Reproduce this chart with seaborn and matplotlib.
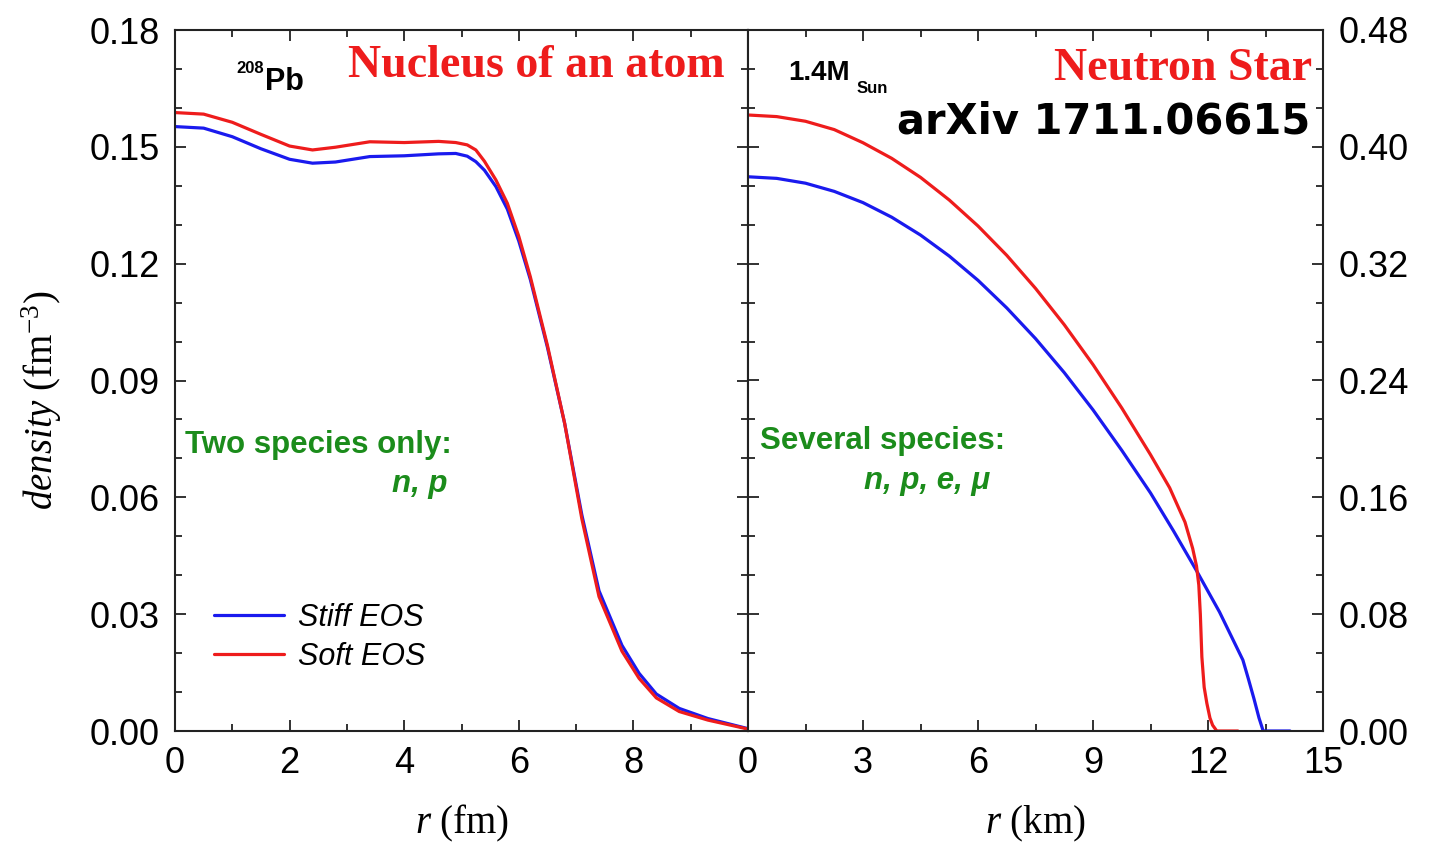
import numpy as np
import pandas as pd
import seaborn as sns
from matplotlib import pyplot as plt
from matplotlib.ticker import MultipleLocator
from matplotlib.lines import Line2D

# nucleus (208Pb) density profiles, r in fm
r_pb = [0, 0.5, 1.0, 1.5, 2.0, 2.4, 2.8, 3.4, 4.0, 4.6, 4.9, 5.1, 5.25, 5.4, 5.6, 5.8,
        6.0, 6.2, 6.5, 6.8, 7.1, 7.4, 7.8, 8.1, 8.4, 8.8, 9.3, 10.0]
stiff_pb = [0.1552, 0.1548, 0.1526, 0.1495, 0.1468, 0.1458, 0.1461, 0.1475, 0.1477,
            0.1482, 0.1483, 0.1476, 0.1462, 0.1440, 0.1398, 0.1340, 0.1258, 0.1160,
            0.0985, 0.0790, 0.0555, 0.0360, 0.0220, 0.0148, 0.0095, 0.0058, 0.0032, 0.0006]
soft_pb = [0.1588, 0.1584, 0.1563, 0.1532, 0.1502, 0.1492, 0.1499, 0.1513, 0.1511,
           0.1514, 0.1511, 0.1505, 0.1492, 0.1463, 0.1415, 0.1355, 0.1270, 0.1167,
           0.0990, 0.0790, 0.0545, 0.0345, 0.0205, 0.0135, 0.0085, 0.0050, 0.0028, 0.0005]

# neutron star (1.4 Msun) density profiles, r in km
r_ns_stiff = [0, 0.75, 1.5, 2.25, 3.0, 3.75, 4.5, 5.25, 6.0, 6.75, 7.5, 8.25, 9.0, 9.75,
              10.5, 11.1, 11.7, 12.3, 12.91, 13.05, 13.2, 13.33, 13.44, 14.14]
stiff_ns = [0.3795, 0.3784, 0.3751, 0.3695, 0.3618, 0.3518, 0.3396, 0.3252, 0.3086,
            0.2897, 0.2687, 0.2454, 0.2199, 0.1922, 0.1630, 0.1370, 0.1098, 0.0815,
            0.0486, 0.0360, 0.0220, 0.0090, 0.0, 0.0]
r_ns_soft = [0, 0.75, 1.5, 2.25, 3.0, 3.75, 4.5, 5.25, 6.0, 6.75, 7.5, 8.25, 9.0, 9.75,
             10.5, 11.0, 11.4, 11.6, 11.7, 11.76, 11.8, 11.84, 11.9, 11.97, 12.05, 12.12,
             12.23, 12.78]
soft_ns = [0.4218, 0.4207, 0.4175, 0.4118, 0.4028, 0.3921, 0.3791, 0.3636, 0.3458,
           0.3257, 0.3031, 0.2782, 0.2509, 0.2212, 0.1892, 0.1665, 0.1430, 0.1250,
           0.1130, 0.1000, 0.0800, 0.0507, 0.0300, 0.0190, 0.0090, 0.0040, 0.0, 0.0]

blue = '#1a1aee'
red = '#ee1c1c'
green = '#1b8c1b'

sns.set_style('ticks')
plt.rcParams['font.family'] = ['Liberation Sans', 'DejaVu Sans']
plt.rcParams['mathtext.fontset'] = 'custom'
plt.rcParams['mathtext.rm'] = 'Liberation Serif'
plt.rcParams['mathtext.it'] = 'Liberation Serif:italic'
for k in ['text.color', 'axes.labelcolor', 'xtick.color', 'ytick.color']:
    plt.rcParams[k] = 'black'

fig = plt.figure(figsize=(14.41, 8.47), dpi=100)
ax1 = fig.add_axes([175 / 1441, 116 / 847, 573 / 1441, 701 / 847])
ax2 = fig.add_axes([748 / 1441, 116 / 847, 575 / 1441, 701 / 847])

pb = pd.DataFrame({'r': r_pb, 'stiff': stiff_pb, 'soft': soft_pb})
sns.lineplot(data=pb, x='r', y='stiff', ax=ax1, color=blue, lw=2.3, sort=False, estimator=None)
sns.lineplot(data=pb, x='r', y='soft', ax=ax1, color=red, lw=2.3, sort=False, estimator=None)

ns_b = pd.DataFrame({'r': r_ns_stiff, 'rho': stiff_ns})
ns_r = pd.DataFrame({'r': r_ns_soft, 'rho': soft_ns})
sns.lineplot(data=ns_b, x='r', y='rho', ax=ax2, color=blue, lw=2.3, sort=False, estimator=None)
sns.lineplot(data=ns_r, x='r', y='rho', ax=ax2, color=red, lw=2.3, sort=False, estimator=None)

ax1.set_xlim(0, 10)
ax1.set_ylim(0, 0.18)
ax1.set_xticks([0, 2, 4, 6, 8])
ax1.xaxis.set_minor_locator(MultipleLocator(1))
ax1.yaxis.set_major_locator(MultipleLocator(0.03))
ax1.yaxis.set_minor_locator(MultipleLocator(0.01))
ax1.yaxis.set_major_formatter(lambda v, p: f'{v:.2f}')

ax2.set_xlim(0, 15)
ax2.set_ylim(0, 0.48)
ax2.xaxis.set_major_locator(MultipleLocator(3))
ax2.xaxis.set_minor_locator(MultipleLocator(1.5))
ax2.yaxis.set_major_locator(MultipleLocator(0.08))
ax2.yaxis.set_minor_locator(MultipleLocator(0.08 / 3))
ax2.yaxis.set_major_formatter(lambda v, p: f'{v:.2f}')

for ax in (ax1, ax2):
    ax.set_xlabel('')
    ax.set_ylabel('')
    for s in ax.spines.values():
        s.set_visible(True)
        s.set_linewidth(1.5)
        s.set_color('#222222')
    for ln in ax.get_lines():
        ln.set_solid_joinstyle('round')
    ax.tick_params(which='both', direction='in', top=True, bottom=True, left=True,
                   right=True, width=1.3, color='#222222')
    ax.tick_params(which='major', length=8, labelsize=26, pad=11)
    ax.tick_params(which='minor', length=5)
ax2.tick_params(labelleft=False, labelright=True)

# annotations, left panel
ax1.text(0.156, 0.938, '208', transform=ax1.transAxes, ha='right', fontsize=12, fontweight='bold')
ax1.text(0.157, 0.914, 'Pb', transform=ax1.transAxes, ha='left', fontsize=22, fontweight='bold')
ax1.text(0.302, 0.933, 'Nucleus of an atom', transform=ax1.transAxes, ha='left',
         fontsize=33, fontweight='bold', color=red, family='Liberation Serif')
ax1.text(0.0175, 0.397, 'Two species only:', transform=ax1.transAxes, ha='left',
         fontsize=22.5, fontweight='bold', color=green)
ax1.text(0.476, 0.341, 'n, p', transform=ax1.transAxes, ha='right',
         fontsize=22.5, fontweight='bold', style='italic', color=green)

handles = [Line2D([], [], color=blue, lw=2.3), Line2D([], [], color=red, lw=2.3)]
ax1.legend(handles, ['Stiff EOS', 'Soft EOS'], loc='lower left', bbox_to_anchor=(0.02, 0.045),
           frameon=False, handlelength=2.3, handletextpad=0.45, labelspacing=0.3,
           prop={'size': 22, 'style': 'italic'})

# annotations, right panel
ax2.text(0.0696, 0.929, '1.4M', transform=ax2.transAxes, ha='left', fontsize=20, fontweight='bold')
ax2.text(0.188, 0.91, 'Sun', transform=ax2.transAxes, ha='left', fontsize=12, fontweight='bold')
ax2.text(0.981, 0.929, 'Neutron Star', transform=ax2.transAxes, ha='right',
         fontsize=33, fontweight='bold', color=red, family='Liberation Serif')
ax2.text(0.977, 0.853, 'arXiv 1711.06615', transform=ax2.transAxes, ha='right',
         fontsize=30, fontweight='bold', family='DejaVu Sans')
ax2.text(0.021, 0.402, 'Several species:', transform=ax2.transAxes, ha='left',
         fontsize=22.5, fontweight='bold', color=green)
ax2.text(0.421, 0.345, 'n, p, e, μ', transform=ax2.transAxes, ha='right',
         fontsize=22.5, fontweight='bold', style='italic', color=green)

# axis labels
fig.text(0.029, 0.528, r'$\mathit{density}$ (fm$^{-3}$)', rotation=90, ha='center',
         va='center', fontsize=28, family='Liberation Serif')
fig.text(462 / 1441, 0.004, r'$\mathit{r}$ (fm)', ha='center', va='bottom', fontsize=28,
         family='Liberation Serif')
fig.text(1035 / 1441, 0.004, r'$\mathit{r}$ (km)', ha='center', va='bottom', fontsize=28,
         family='Liberation Serif')

fig.savefig('out.png', dpi=100)
